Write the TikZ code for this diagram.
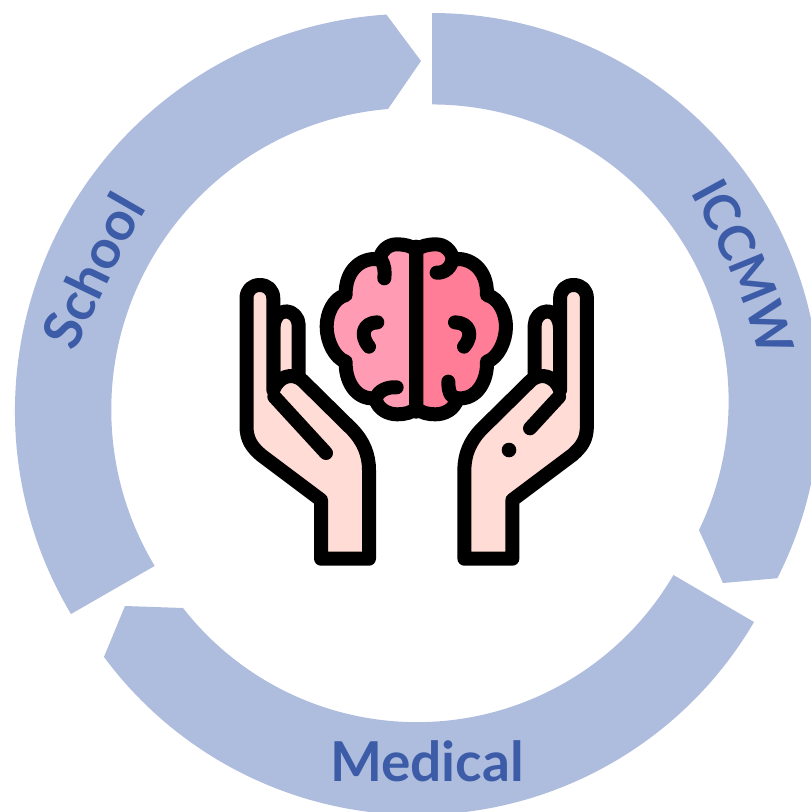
\documentclass[tikz,border=0pt]{standalone}
\usepackage{fontspec}
\setmainfont{Lato}
\usetikzlibrary{decorations.text}
\definecolor{ringblue}{RGB}{174,188,221}
\definecolor{labelblue}{RGB}{61,92,168}
\definecolor{skin}{RGB}{255,221,214}
\definecolor{brainleft}{RGB}{255,155,178}
\definecolor{brainright}{RGB}{255,125,150}
\newcommand{\labelfont}[1]{\fontsize{#1}{#1}\selectfont\bfseries\color{labelblue}}
% one hand, palm facing right, in reference pixels
\newcommand{\handshape}{
    \draw[icon, fill=skin] (273.3,330) .. controls (273.3,318) and (279,311.3) .. (286,311.3)
        .. controls (293,311.3) and (298.7,318) .. (298.7,325) -- (298.7,385) -- (273.3,385) -- cycle;
    \draw[icon, fill=skin] (321,558.7) -- (321,500) -- (261,455)
        .. controls (252,447) and (246.5,440) .. (246.5,426) -- (246.5,298.5)
        .. controls (246.5,290) and (252,285) .. (259.8,285) .. controls (267.5,285) and (273.3,290) .. (273.3,298.5)
        -- (273.3,390) .. controls (278,377) and (292,371) .. (303,381) -- (352.7,430)
        .. controls (363,441) and (369,454) .. (369,470) -- (369,558.7) -- cycle;
}
% left half of the brain outline, in zoomed coordinates
\newcommand{\lobes}{
    (289,60) .. controls (275,48) and (255,43) .. (230,43)
    .. controls (205,43) and (185,60) .. (178,88)
    .. controls (130,80) and (75,115) .. (77,195)
    .. controls (40,205) and (20,250) .. (20,290)
    .. controls (20,335) and (45,385) .. (77,395)
    .. controls (75,450) and (105,510) .. (165,505)
    .. controls (175,540) and (205,553) .. (232,553)
    .. controls (255,553) and (275,548) .. (289,535) -- cycle
}
\tikzset{
    ringseg/.style={fill=ringblue},
    icon/.style={draw=black, line width=14pt, line join=round, line cap=round},
    ringlabel/.style={font=\labelfont{55}, text=labelblue, inner sep=0pt},
    curvedlabel/.style 2 args={decorate, decoration={text along path, text={|\labelfont{#1}|#2}}}
}
\begin{document}
\begin{tikzpicture}[x=1pt, y=-1pt]
    \useasboundingbox (0,0) rectangle (811,812);
    % ring
    \fill[ringseg] (432,13) arc[start angle=-89.9, end angle=27.06, radius=388.5]
        -- (723,583) -- (699,530) arc[start angle=25.8, end angle=-90, radius=296.5] -- cycle;
    \fill[ringseg] (754,622) arc[start angle=30.35, end angle=143.5, radius=390]
        -- (125,606) -- (183,608) arc[start angle=142, end angle=30.3, radius=297] -- cycle;
    \fill[ringseg] (71,614) arc[start angle=149.2, end angle=266.3, radius=397]
        -- (421,61) -- (388,109) arc[start angle=265.2, end angle=148.9, radius=302] -- cycle;
    % labels
    \node[ringlabel] (medical) at (427,761) {Medical};
    \path[curvedlabel={50}{ICCMW}] (690,192) .. controls (718,243) and (746,298) .. (760,362);
    \path[curvedlabel={54}{School}] (74,352) .. controls (96,310) and (121,250) .. (153,198);
    % hands
    \handshape
    \draw[icon] (274.3,396.7) -- (326,453);
    \begin{scope}[xshift=833.4pt, xscale=-1]
        \handshape
        \draw[icon] (274.3,396.7) -- (303.4,428.3);
        \fill (324.4,450) circle (7.3pt);
    \end{scope}
    % brain
    \begin{scope}[shift={(320,230)}, scale=0.3333]
        \draw[icon, fill=brainleft] \lobes;
        \begin{scope}[xshift=578pt, xscale=-1]
            \draw[icon, fill=brainright] \lobes;
        \end{scope}
        \draw[icon] (289,50) -- (289,545);
        \draw[icon] (180,85) .. controls (195,105) and (195,125) .. (193,145);
        \draw[icon] (168,505) .. controls (175,480) and (205,470) .. (230,472);
        \draw[icon] (172,277) .. controls (130,278) and (118,315) .. (147,350);
        \draw[icon] (398,80) .. controls (398,110) and (375,130) .. (350,128);
        \draw[icon] (385,455) .. controls (385,490) and (395,505) .. (412,505);
        \draw[icon] (405,277) .. controls (448,278) and (462,315) .. (432,350);
    \end{scope}
\end{tikzpicture}
\end{document}
